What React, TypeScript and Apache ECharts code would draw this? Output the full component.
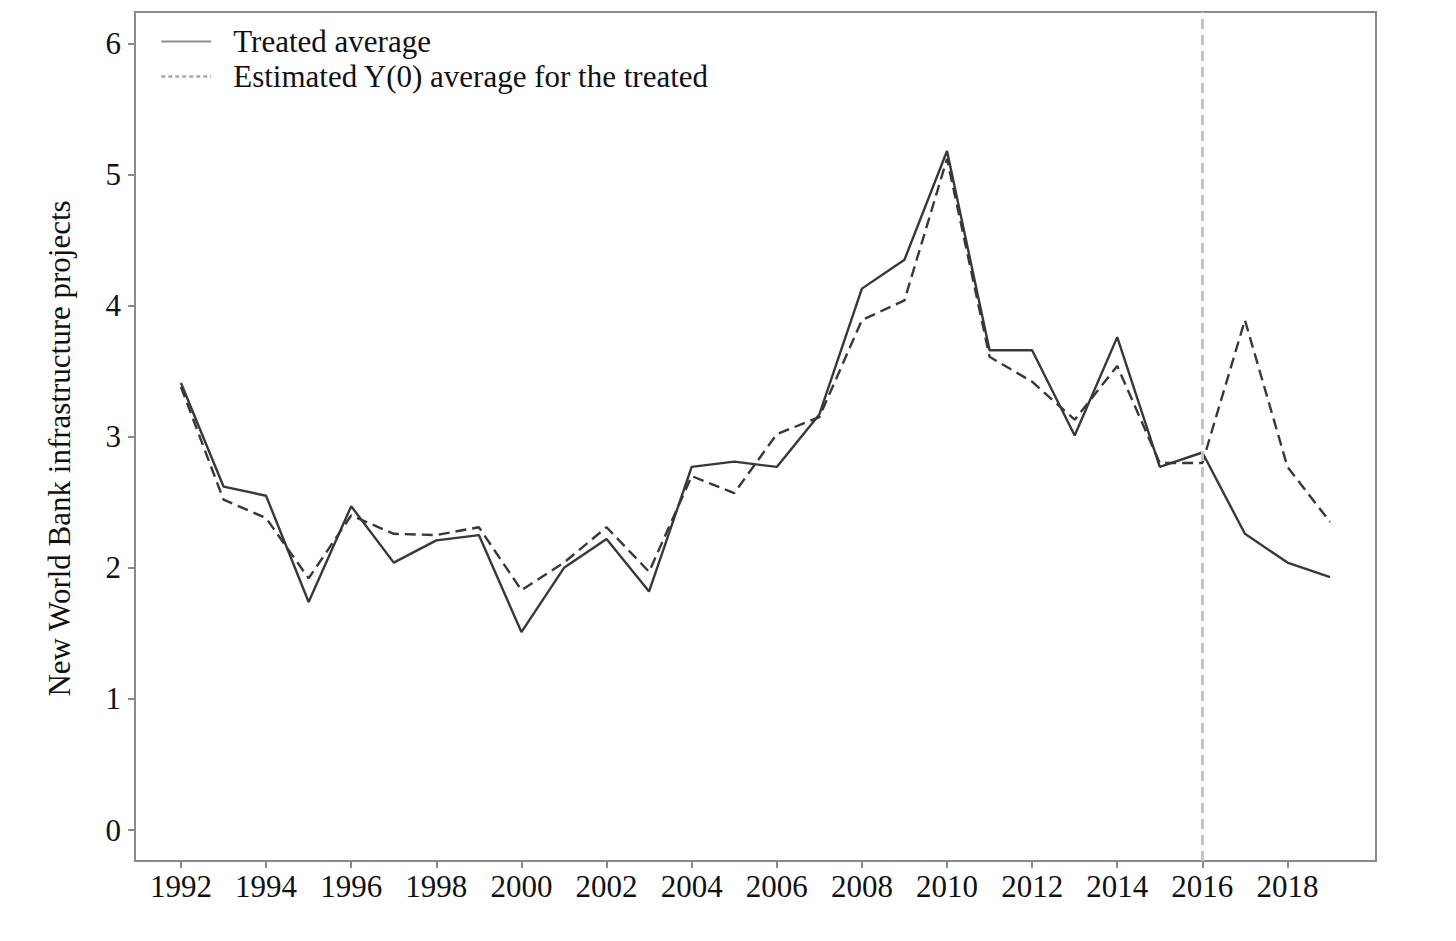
import React, { useEffect, useRef } from 'react';
import * as echarts from 'echarts';

const years = [
  1992, 1993, 1994, 1995, 1996, 1997, 1998, 1999, 2000, 2001, 2002, 2003, 2004, 2005,
  2006, 2007, 2008, 2009, 2010, 2011, 2012, 2013, 2014, 2015, 2016, 2017, 2018, 2019,
];

const treated = [
  3.41, 2.62, 2.55, 1.74, 2.47, 2.04, 2.21, 2.25, 1.51, 2.0, 2.22, 1.82, 2.77, 2.81,
  2.77, 3.17, 4.13, 4.35, 5.18, 3.66, 3.66, 3.01, 3.76, 2.77, 2.88, 2.26, 2.04, 1.93,
];

const estimated = [
  3.38, 2.52, 2.38, 1.92, 2.4, 2.26, 2.25, 2.31, 1.83, 2.04, 2.31, 1.97, 2.7, 2.57,
  3.02, 3.15, 3.89, 4.04, 5.12, 3.61, 3.42, 3.13, 3.54, 2.8, 2.8, 3.89, 2.77, 2.35,
];

const xTicks = [1992, 1994, 1996, 1998, 2000, 2002, 2004, 2006, 2008, 2010, 2012, 2014, 2016, 2018];
const yTicks = [0, 1, 2, 3, 4, 5, 6];
const treatmentYear = 2016;

const FONT = '"Liberation Serif", "Times New Roman", serif';
const AXIS_GRAY = '#8a8a8a';
const LINE_DARK = '#383838';
const FS = 31;

const App: React.FC = () => {
  const chartRef = useRef<HTMLDivElement>(null);

  useEffect(() => {
    if (!chartRef.current) return;
    const chart = echarts.init(chartRef.current, null, { renderer: 'svg' });

    const option = {
      animation: false,
      backgroundColor: '#fff',
      textStyle: { fontFamily: FONT, color: '#111' },
      grid: {
        left: 135,
        right: 80,
        top: 12,
        bottom: 80,
        show: true,
        borderColor: AXIS_GRAY,
        borderWidth: 2,
      },
      legend: {
        orient: 'vertical',
        left: 155,
        top: 21,
        itemWidth: 50,
        itemHeight: 14,
        itemGap: 4,
        textStyle: { fontFamily: FONT, fontSize: FS, color: '#111', padding: [0, 0, 0, 17] },
        data: [
          {
            name: 'Treated average',
            itemStyle: { opacity: 0 },
            lineStyle: { color: '#8f8f8f', width: 2, type: 'solid' },
          },
          {
            name: 'Estimated Y(0) average for the treated',
            itemStyle: { opacity: 0 },
            lineStyle: { color: '#a8a8a8', width: 2.5, type: [4, 3] },
          },
        ],
      },
      xAxis: {
        type: 'value',
        min: 1990.92,
        max: 2020.08,
        splitLine: { show: false },
        axisLine: { show: true, onZero: false, lineStyle: { color: AXIS_GRAY, width: 2 } },
        axisTick: {
          show: true,
          length: 7,
          customValues: xTicks,
          lineStyle: { color: AXIS_GRAY, width: 2 },
        },
        axisLabel: {
          customValues: xTicks,
          margin: 10,
          fontSize: FS,
          fontFamily: FONT,
          color: '#111',
          formatter: (v: number) => String(v),
        },
      },
      yAxis: {
        type: 'value',
        min: -0.236,
        max: 6.24,
        name: 'New World Bank infrastructure projects',
        nameLocation: 'middle',
        nameRotate: 90,
        nameGap: 60,
        nameTextStyle: { fontFamily: FONT, fontSize: FS, color: '#111', padding: [0, 24, 0, 0] },
        splitLine: { show: false },
        axisLine: { show: true, onZero: false, lineStyle: { color: AXIS_GRAY, width: 2 } },
        axisTick: {
          show: true,
          length: 7,
          customValues: yTicks,
          lineStyle: { color: AXIS_GRAY, width: 2 },
        },
        axisLabel: {
          customValues: yTicks,
          margin: 14,
          fontSize: FS,
          fontFamily: FONT,
          color: '#111',
        },
      },
      series: [
        {
          name: 'Treated average',
          type: 'line',
          data: years.map((y, i) => [y, treated[i]]),
          symbol: 'none',
          lineStyle: { color: LINE_DARK, width: 2.4, type: 'solid' },
          itemStyle: { color: LINE_DARK },
          markLine: {
            silent: true,
            symbol: 'none',
            label: { show: false },
            lineStyle: { color: '#c4c4c4', width: 3, type: [10, 6] },
            data: [{ xAxis: treatmentYear }],
          },
        },
        {
          name: 'Estimated Y(0) average for the treated',
          type: 'line',
          data: years.map((y, i) => [y, estimated[i]]),
          symbol: 'none',
          lineStyle: { color: LINE_DARK, width: 2.4, type: [11, 6] },
          itemStyle: { color: LINE_DARK },
        },
      ],
    };

    chart.setOption(option);
    return () => {
      chart.dispose();
    };
  }, []);

  return (
    <div
      ref={chartRef}
      style={{ position: 'fixed', left: 0, top: 0, width: '1456px', height: '941px', background: '#fff' }}
    />
  );
};

export default App;
